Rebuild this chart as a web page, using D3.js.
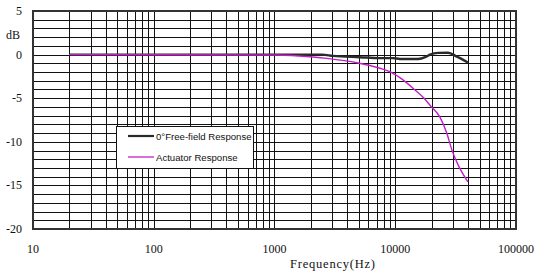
<!DOCTYPE html>
<html>
<head>
<meta charset="utf-8">
<script src="https://cdn.jsdelivr.net/npm/d3@7"></script>
<style>
  html, body { margin: 0; padding: 0; background: #fff; }
  svg { display: block; }
  .serif { font-family: 'Liberation Serif', 'Times New Roman', Times, serif; font-size: 12px; fill: #111; }
  .sans { font-family: 'Liberation Sans', Arial, sans-serif; font-size: 9.6px; fill: #111; }
</style>
</head>
<body>
<svg id="chart" width="543" height="278"></svg>
<script>
/* Frequency response: free-field vs actuator, log frequency axis */
var yTicks = [5, 0, -5, -10, -15, -20];
var xTicks = [10, 100, 1000, 10000, 100000];

var freeFreq = [20, 1000, 2480, 3050, 5100, 7470, 9570, 10940, 15450, 17700, 19400, 22600, 27400, 32400, 40000];
var freeDb   = [0, 0, 0, -0.15, -0.3, -0.4, -0.4, -0.5, -0.5, -0.3, 0.0, 0.2, 0.22, -0.24, -0.9];

var actFreq = [20, 1000, 1970, 2700, 4820, 7470, 9000, 11590, 14560, 17000, 19400, 23500, 26700, 29400, 33300, 40000];
var actDb   = [0, -0.05, -0.24, -0.43, -0.93, -1.57, -1.96, -2.9, -4.06, -4.9, -5.8, -7.2, -9.0, -10.9, -12.7, -14.6];

var legendNames = ['0\u00B0Free-field Response', 'Actuator Response'];

(function () {
  'use strict';
  var svg = d3.select('#chart');
  var L = 33, R = 516, T = 11, B = 229;

  var xs = d3.scaleLog().domain([10, 100000]).range([L, R]);
  var ys = d3.scaleLinear().domain([-20, 5]).range([B, T]);

  var grid = svg.append('g').attr('stroke', '#111').attr('stroke-width', 1).attr('shape-rendering', 'crispEdges');

  /* horizontal gridlines every 1 dB */
  d3.range(-19, 5).forEach(function (v) {
    grid.append('line')
      .attr('x1', L).attr('x2', R)
      .attr('y1', Math.round(ys(v)) + 0.5).attr('y2', Math.round(ys(v)) + 0.5);
  });

  /* vertical gridlines at 1..9 per decade */
  var minor = [];
  for (var d = 10; d < 100000; d *= 10) {
    for (var k = 1; k <= 9; k++) { if (!(k === 1 && d === 10)) minor.push(d * k); }
  }
  minor.forEach(function (f) {
    grid.append('line')
      .attr('x1', Math.round(xs(f)) + 0.5).attr('x2', Math.round(xs(f)) + 0.5)
      .attr('y1', T).attr('y2', B);
  });

  /* frame */
  svg.append('rect')
    .attr('x', L).attr('y', T).attr('width', R - L).attr('height', B - T)
    .attr('fill', 'none').attr('stroke', '#333').attr('stroke-width', 2);

  /* curves */
  var line = d3.line()
    .x(function (p) { return xs(p[0]); })
    .y(function (p) { return ys(p[1]); })
    .curve(d3.curveMonotoneX);

  svg.append('path')
    .datum(d3.zip(freeFreq, freeDb))
    .attr('d', line)
    .attr('fill', 'none').attr('stroke', '#2a2a2a').attr('stroke-width', 2.4);

  svg.append('path')
    .datum(d3.zip(actFreq, actDb))
    .attr('d', line)
    .attr('fill', 'none').attr('stroke', '#c21fc8').attr('stroke-width', 1.4);

  /* y tick labels */
  svg.append('g').selectAll('text').data(yTicks).enter().append('text')
    .attr('class', 'serif')
    .attr('x', 22).attr('y', function (v) { return ys(v) + 4; })
    .attr('text-anchor', 'end')
    .text(function (v) { return v; });

  svg.append('text').attr('class', 'serif')
    .attr('x', 13).attr('y', 39).attr('text-anchor', 'middle')
    .text('dB');

  /* x tick labels */
  svg.append('g').selectAll('text').data(xTicks).enter().append('text')
    .attr('class', 'serif')
    .attr('x', function (f) { return xs(f); }).attr('y', 253)
    .attr('text-anchor', 'middle')
    .text(function (f) { return f; });

  /* axis title: serif, spaced out to look like the monospaced original */
  svg.append('text').attr('class', 'serif')
    .attr('x', 290).attr('y', 268)
    .attr('textLength', 85).attr('lengthAdjust', 'spacing')
    .style('font-size', '12.5px')
    .text('Frequency(Hz)');

  /* legend */
  var lg = svg.append('g');
  lg.append('rect')
    .attr('x', 116.5).attr('y', 126.5).attr('width', 137).attr('height', 42)
    .attr('fill', '#fff').attr('stroke', '#111').attr('stroke-width', 1);
  var lcol = ['#2a2a2a', '#c21fc8'], lw = [2.2, 1.3], ly = [136, 157];
  legendNames.forEach(function (n, i) {
    lg.append('line')
      .attr('x1', 128).attr('x2', 154).attr('y1', ly[i]).attr('y2', ly[i])
      .attr('stroke', lcol[i]).attr('stroke-width', lw[i]);
    lg.append('text').attr('class', 'sans')
      .attr('x', 156).attr('y', ly[i] + 4)
      .text(n);
  });
})();
</script>
</body>
</html>
